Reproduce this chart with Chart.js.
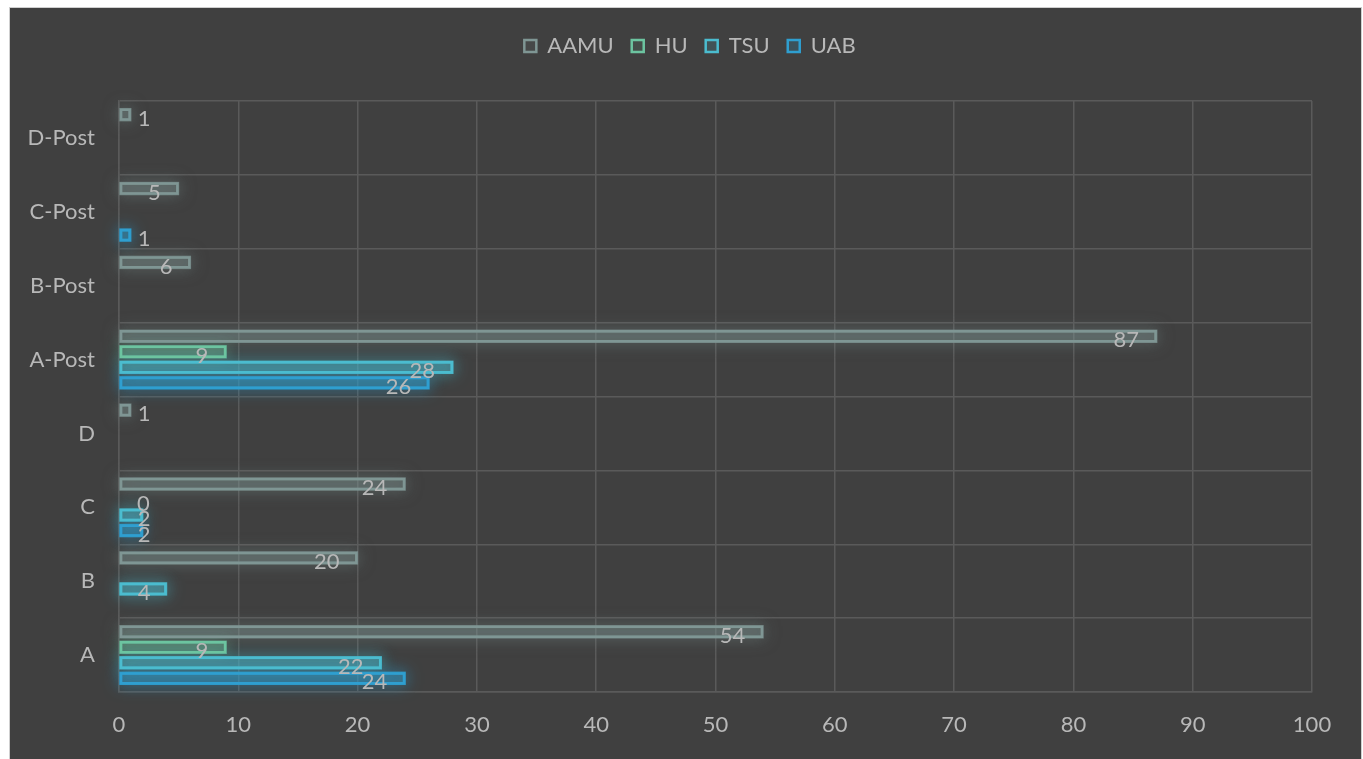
<!DOCTYPE html>
<html>
<head>
<meta charset="utf-8">
<script src="https://cdn.jsdelivr.net/npm/chart.js@4.4.1/dist/chart.umd.min.js"></script>
<style>
  html, body { margin: 0; padding: 0; background: #ffffff; width: 1363px; height: 759px; overflow: hidden; }
  #frame {
    position: absolute; left: 9px; top: 7px; width: 1351px; height: 760px;
    border-left: 1px solid #cfcfcf; border-top: 1px solid #cfcfcf; border-right: 1px solid #cfcfcf;
    background: #404040;
  }
  canvas { position: absolute; left: 0; top: 0; }
</style>
</head>
<body>
<div id="frame"><canvas id="c" width="1351" height="751"></canvas></div>
<script>
// Categories from bottom (A) to top (D-Post)
const categories = ['A', 'B', 'C', 'D', 'A-Post', 'B-Post', 'C-Post', 'D-Post'];
const aamu = [54, 20, 24, 1, 87, 6, 5, 1];
const hu   = [9, null, 0, null, 9, null, null, null];
const tsu  = [22, 4, 2, null, 28, null, null, null];
const uab  = [24, null, 2, null, 26, null, 1, null];
const seriesNames = ['AAMU', 'HU', 'TSU', 'UAB'];
const xMin = 0, xMax = 100, xStep = 10;

const strokeColors = ['#7f9694', '#6cc4a0', '#4bbccf', '#2f9fd0'];
const fillColors   = ['rgba(127,150,148,0.10)', 'rgba(108,196,160,0.10)', 'rgba(75,188,207,0.16)', 'rgba(47,159,208,0.18)'];
const glowColors   = ['rgba(127,150,148,0.75)', 'rgba(108,196,160,0.7)', 'rgba(75,188,207,0.9)', 'rgba(47,159,208,0.9)'];
const textColor = '#b8b8b8';
const gridColor = '#5a5a5a';
const FONT = 'Lato';
const FS = 22;

// category axis runs top to bottom, so list the last category first
const order = categories.map((_, i) => i).reverse();
const labels = order.map(i => categories[i]);
const pick = arr => order.map(i => arr[i]);

const seriesData = [aamu, hu, tsu, uab];
const datasets = seriesNames.map((name, k) => ({
  label: name,
  data: pick(seriesData[k]),
  backgroundColor: fillColors[k],
  borderColor: strokeColors[k],
  borderWidth: 2.5,
  borderSkipped: false,
  glowColor: glowColors[k],
  categoryPercentage: 0.84,
  barPercentage: 0.8
}));

// soft halo painted under each bar (bar drawing clips its own shadow)
const glow = {
  id: 'glow',
  beforeDatasetsDraw(chart) {
    const ctx = chart.ctx;
    chart.data.datasets.forEach((ds, di) => {
      const meta = chart.getDatasetMeta(di);
      meta.data.forEach((el, i) => {
        const v = ds.data[i];
        if (!v) return;
        const p = el.getProps(['x', 'y', 'base', 'height'], true);
        const left = Math.min(p.base, p.x);
        const w = Math.abs(p.x - p.base);
        const top = p.y - p.height / 2;
        ctx.save();
        ctx.shadowColor = ds.glowColor;
        ctx.shadowBlur = 16;
        ctx.lineWidth = 3;
        ctx.strokeStyle = ds.glowColor;
        ctx.fillStyle = ds.glowColor.replace(/[\d.]+\)$/, '0.25)');
        ctx.fillRect(left, top, w, p.height);
        ctx.strokeRect(left + 1, top + 1, w - 2, p.height - 2);
        ctx.restore();
      });
    });
  }
};

// value labels near the end of each bar
const valueLabels = {
  id: 'valueLabels',
  afterDatasetsDraw(chart) {
    const ctx = chart.ctx;
    ctx.save();
    ctx.font = FS + 'px ' + FONT;
    ctx.fillStyle = textColor;
    ctx.textBaseline = 'middle';
    ctx.textAlign = 'left';
    chart.data.datasets.forEach((ds, di) => {
      const meta = chart.getDatasetMeta(di);
      meta.data.forEach((el, i) => {
        const v = ds.data[i];
        if (v === null || v === undefined) return;
        const t = String(v);
        const w = ctx.measureText(t).width;
        const left = Math.max(el.x - 18 - w, el.base + 18);
        ctx.fillText(t, left, el.y + 4);
      });
    });
    ctx.restore();
  }
};

// reserve room between legend and plot, and centre the legend on the frame
const legendSpace = {
  id: 'legendSpace',
  afterInit(chart) {
    const lg = chart.legend;
    if (!lg) return;
    const fit = lg.fit;
    lg.fit = function () { fit.call(this); this.height = 84; };
  },
  afterLayout(chart) {
    const lg = chart.legend;
    if (!lg) return;
    lg.left += 29;
    lg.right += 29;
  }
};

new Chart(document.getElementById('c'), {
  type: 'bar',
  data: { labels, datasets },
  plugins: [glow, valueLabels, legendSpace],
  options: {
    responsive: false,
    animation: false,
    indexAxis: 'y',
    layout: { padding: { top: 9, right: 49, bottom: 0, left: 0 } },
    plugins: {
      legend: {
        position: 'top',
        align: 'center',
        labels: {
          color: textColor,
          font: { family: FONT, size: FS },
          boxWidth: 12,
          boxHeight: 12,
          padding: 18
        }
      },
      tooltip: { enabled: false }
    },
    scales: {
      x: {
        min: xMin, max: xMax,
        ticks: { stepSize: xStep, color: textColor, font: { family: FONT, size: FS }, padding: 20 },
        grid: { color: gridColor, lineWidth: 1.5, drawTicks: false },
        border: { color: gridColor, width: 1.5 },
        afterFit(s) { s.height = 67; }
      },
      y: {
        ticks: { color: textColor, font: { family: FONT, size: FS }, padding: 24 },
        grid: { color: gridColor, lineWidth: 1.5, drawTicks: false, offset: true },
        border: { color: gridColor, width: 1.5 },
        afterFit(s) { s.width = 109; }
      }
    }
  }
});
</script>
</body>
</html>
